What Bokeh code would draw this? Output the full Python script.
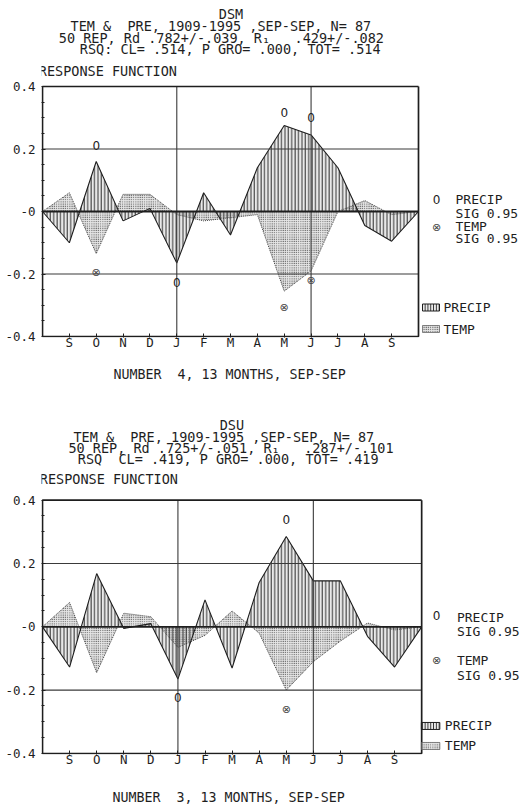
from bokeh.plotting import figure
from bokeh.layouts import column
from bokeh.models import Range1d, FixedTicker, Title
from bokeh.embed import file_html
from bokeh.resources import INLINE
from bokeh.core.properties import value

FONT = "DejaVu Sans Mono"
MARK_FONT = "DejaVu Sans"
INK = "#1e1e1e"
NB = "\u00a0"

MONTHS = ["S", "O", "N", "D", "J", "F", "M", "A", "M", "J", "J", "A", "S"]
Y_TICKS = [-0.4, -0.2, 0.0, 0.2, 0.4]
Y_TICK_LABELS = ["-0.4", "-0.2", "-0", "0.2", "0.4"]
Y_MINOR = [-0.35, -0.3, -0.25, -0.15, -0.1, -0.05, 0.05, 0.1, 0.15, 0.25, 0.3, 0.35]
GRID_Y = [-0.2, 0.2]
GRID_X = [5, 10]          # January and June

# ---- DSM (top) ----
dsm_title = ["DSM",
             "TEM &  PRE, 1909-1995 ,SEP-SEP, N= 87",
             "50 REP, Rd .782+/-.039, R\u2081   .429+/-.082",
             "RSQ: CL= .514, P GRO= .000, TOT= .514"]
dsm_footer = "NUMBER  4, 13 MONTHS, SEP-SEP"
dsm_precip = [-0.100, 0.160, -0.030, 0.010, -0.165, 0.060, -0.075, 0.140, 0.275, 0.245, 0.140, -0.045, -0.095]
dsm_temp = [0.060, -0.135, 0.055, 0.055, -0.010, -0.030, -0.020, -0.010, -0.255, -0.190, 0.000, 0.035, -0.010]
dsm_psig_month = [2, 5, 9, 10]
dsm_psig_y = [0.21, -0.227, 0.317, 0.300]
dsm_tsig_month = [2, 9, 10]
dsm_tsig_y = [-0.195, -0.307, -0.222]

# ---- DSU (bottom) ----
dsu_title = ["DSU",
             "TEM &  PRE, 1909-1995 ,SEP-SEP, N= 87",
             "50 REP, Rd .725+/-.051, R\u2081   .287+/-.101",
             "RSQ  CL= .419, P GRO= .000, TOT= .419"]
dsu_footer = "NUMBER  3, 13 MONTHS, SEP-SEP"
dsu_precip = [-0.127, 0.168, -0.005, 0.010, -0.165, 0.085, -0.130, 0.140, 0.285, 0.145, 0.145, -0.030, -0.127]
dsu_temp = [0.077, -0.145, 0.043, 0.032, -0.065, -0.027, 0.050, -0.020, -0.200, -0.110, -0.045, 0.012, -0.010]
dsu_psig_month = [5, 9]
dsu_psig_y = [-0.223, 0.338]
dsu_tsig_month = [9]
dsu_tsig_y = [-0.260]

# layout in figure pixels (x from left, y from top of each figure); text y = centre
LAYOUT_TOP = dict(W=521, H=400, left=42, top=86, ppu=312.5,
                  title_pos=[(218.3, 13.3), (70, 25), (58.3, 37), (79.3, 48)],
                  resp_pos=(38.3, 70), foot_offset=72, foot_standoff=10, spacer=5,
                  leg_marker_x=436, leg_text_x=455,
                  leg_rows=[199, 213, 226, 238], leg_marks=[199, 227],
                  box_l=422, box_r=439, box_text_x=443, box_rows=[307, 328.5], box_h=7)
LAYOUT_BOT = dict(W=521, H=410, left=46, top=99.5, ppu=316.25,
                  title_pos=[(221.7, 24.7), (76.7, 36.2), (71.7, 47.5), (81, 58.7)],
                  resp_pos=(43.3, 78.7), foot_offset=71, foot_standoff=4, spacer=14,
                  leg_marker_x=436.7, leg_text_x=457,
                  leg_rows=[216.7, 231, 260, 275], leg_marks=[215, 260],
                  box_l=421.7, box_r=440, box_text_x=445, box_rows=[325, 345], box_h=7)


def keep_spaces(s):
    return s.replace("  ", NB + NB).replace(NB + " ", NB + NB)


def make_chart(L, title_lines, footer, precip, temp, psig_m, psig_y, tsig_m, tsig_y):
    W, H, left, top, ppu = L["W"], L["H"], L["left"], L["top"], L["ppu"]
    ux = 376.0 / 14.0
    pad = 1.0
    bottom_px = top + 0.8 * ppu + pad
    mbb = int(round(H - bottom_px))

    def X(fx):
        return (fx - left) / ux

    def Y(fy):
        return 0.4 - (fy - top) / ppu

    p = figure(width=W, height=H, output_backend="svg", toolbar_location=None,
               x_range=Range1d(-pad / ux, (W - left) / ux),
               y_range=Range1d(-0.4 - pad / ppu, 0.4 + top / ppu),
               min_border_left=int(left - pad - 4), min_border_right=0, min_border_top=0,
               min_border_bottom=mbb)
    p.outline_line_color = None
    p.xgrid.visible = False
    p.ygrid.visible = False
    p.background_fill_color = "white"
    p.border_fill_color = "white"

    # axes
    ya = p.yaxis[0]
    ya.ticker = FixedTicker(ticks=Y_TICKS, minor_ticks=Y_MINOR)
    ya.major_label_overrides = {t: s for t, s in zip(Y_TICKS, Y_TICK_LABELS)}
    ya.axis_line_color = None
    ya.major_tick_in = 4
    ya.major_tick_out = 0
    ya.minor_tick_in = 3
    ya.minor_tick_out = 0
    ya.major_tick_line_color = INK
    ya.minor_tick_line_color = INK
    ya.major_label_text_font = FONT
    ya.major_label_text_font_size = "12.5px"
    ya.major_label_text_color = INK
    ya.major_label_standoff = 6

    xa = p.xaxis[0]
    idx = list(range(1, len(MONTHS) + 1))
    xa.ticker = FixedTicker(ticks=idx)
    xa.major_label_overrides = {i: m for i, m in zip(idx, MONTHS)}
    xa.axis_line_color = None
    xa.major_tick_in = 4
    xa.major_tick_out = 0
    xa.minor_tick_line_color = None
    xa.major_tick_line_color = INK
    xa.major_label_text_font = FONT
    xa.major_label_text_font_size = "12.5px"
    xa.major_label_text_color = INK
    xa.major_label_standoff = -3
    # invisible spacer between month labels and footer
    xa.axis_label = NB
    xa.axis_label_text_font_size = "1px"
    xa.axis_label_standoff = L["spacer"]

    n = len(MONTHS)
    xs = list(range(0, n + 2))
    pv = [0.0] + list(precip) + [0.0]
    tv = [0.0] + list(temp) + [0.0]
    zeros = [0.0] * len(xs)
    x_end = n + 1

    # temperature: stippled area
    p.varea(x=xs, y1=zeros, y2=tv, fill_color="#b8b8b8", fill_alpha=0.35,
            hatch_pattern="dot", hatch_scale=2.2, hatch_weight=1.3, hatch_color="#333333")
    p.line(xs, tv, line_color="#474747", line_width=1, line_dash="1 1")
    # precipitation: vertical hatching
    p.varea(x=xs, y1=zeros, y2=pv, fill_color="#c0c0c0", fill_alpha=0.35,
            hatch_pattern="vertical_line", hatch_scale=3.4, hatch_weight=0.9, hatch_color="#1a1a1a")
    p.line(xs, pv, line_color=INK, line_width=1.1)

    # grid and box
    p.segment(x0=[0] * len(GRID_Y), x1=[x_end] * len(GRID_Y), y0=GRID_Y, y1=GRID_Y,
              line_color="#3a3a3a", line_width=1.1)
    p.segment(x0=GRID_X, x1=GRID_X, y0=[-0.4] * len(GRID_X), y1=[0.4] * len(GRID_X),
              line_color="#3a3a3a", line_width=1.1)
    p.segment(x0=[0], x1=[x_end], y0=[0], y1=[0], line_color=INK, line_width=1.8)
    p.line([x_end, 0, 0, x_end, x_end], [0.4, 0.4, -0.4, -0.4, 0.4], line_color=INK, line_width=1.7)

    # significance markers
    p.text(x=psig_m, y=psig_y, text=["0"] * len(psig_m), text_font=value(MARK_FONT),
           text_font_size="12px", text_align="center", text_baseline="middle", text_color=INK)
    p.text(x=tsig_m, y=tsig_y, text=["\u2297"] * len(tsig_m), text_font=value(MARK_FONT),
           text_font_size="11px", text_align="center", text_baseline="middle", text_color="#444444")

    # legend (right side)
    lx = X(L["leg_text_x"])
    mx = X(L["leg_marker_x"])
    rows = L["leg_rows"]
    p.text(x=[lx] * 4, y=[Y(r) for r in rows],
           text=["PRECIP", "SIG 0.95", "TEMP", "SIG 0.95"],
           text_font=value(FONT), text_font_size="13px", text_align="left",
           text_baseline="middle", text_color=INK)
    m1, m2 = L["leg_marks"]
    p.text(x=[mx], y=[Y(m1)], text=["0"], text_font=value(MARK_FONT), text_font_size="12px",
           text_align="center", text_baseline="middle", text_color=INK)
    p.text(x=[mx], y=[Y(m2)], text=["\u2297"], text_font=value(MARK_FONT), text_font_size="11px",
           text_align="center", text_baseline="middle", text_color="#444444")

    bl, br, bh = X(L["box_l"]), X(L["box_r"]), L["box_h"]
    bp, bt = L["box_rows"]
    p.quad(left=[bl], right=[br], top=[Y(bp - bh / 2)], bottom=[Y(bp + bh / 2)],
           fill_color="#c0c0c0", fill_alpha=0.35, line_color=INK, line_width=1,
           hatch_pattern="vertical_line", hatch_scale=2.8, hatch_weight=0.9, hatch_color="#1a1a1a")
    p.quad(left=[bl], right=[br], top=[Y(bt - bh / 2)], bottom=[Y(bt + bh / 2)],
           fill_color="#b8b8b8", fill_alpha=0.35, line_color="#666666", line_width=0.8,
           hatch_pattern="dot", hatch_scale=2.2, hatch_weight=1.2, hatch_color="#333333")
    bx = X(L["box_text_x"])
    p.text(x=[bx, bx], y=[Y(bp), Y(bt)], text=["PRECIP", "TEMP"],
           text_font=value(FONT), text_font_size="13px", text_align="left",
           text_baseline="middle", text_color=INK)

    # titles above the box
    tx = [X(fx) for fx, fy in L["title_pos"]]
    ty = [Y(fy) for fx, fy in L["title_pos"]]
    p.text(x=tx, y=ty, text=[keep_spaces(t) for t in title_lines], text_font=value(FONT),
           text_font_size="13.5px", text_align="left", text_baseline="middle", text_color=INK)
    rx, ry = L["resp_pos"]
    p.text(x=[X(rx)], y=[Y(ry)], text=["RESPONSE FUNCTION"], text_font=value(FONT),
           text_font_size="13.5px", text_align="left", text_baseline="middle", text_color=INK)

    # footer below the month axis
    p.add_layout(Title(text=keep_spaces(footer), align="left", offset=L["foot_offset"],
                       standoff=L["foot_standoff"], vertical_align="top",
                       text_font=FONT, text_font_size="13.3px", text_font_style="normal",
                       text_color=INK), "below")
    return p


p1 = make_chart(LAYOUT_TOP, dsm_title, dsm_footer, dsm_precip, dsm_temp,
                dsm_psig_month, dsm_psig_y, dsm_tsig_month, dsm_tsig_y)
p2 = make_chart(LAYOUT_BOT, dsu_title, dsu_footer, dsu_precip, dsu_temp,
                dsu_psig_month, dsu_psig_y, dsu_tsig_month, dsu_tsig_y)

layout = column(p1, p2, spacing=0)
open("out.html", "w").write(file_html(layout, INLINE))
